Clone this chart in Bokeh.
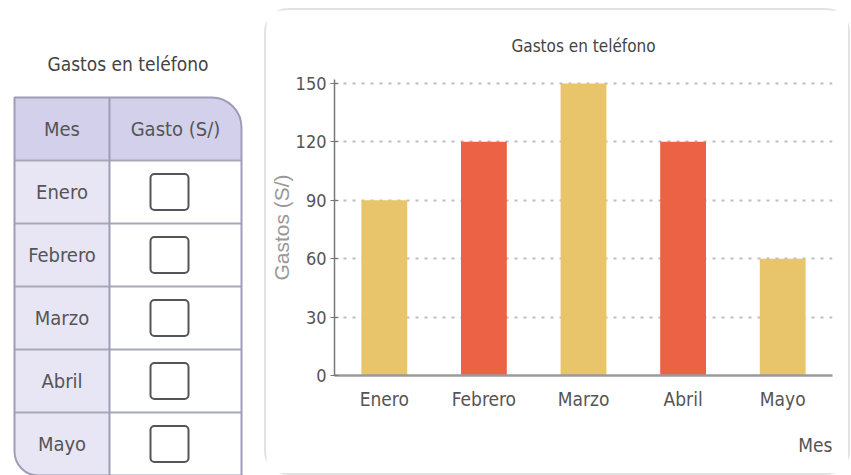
from bokeh.plotting import figure
from bokeh.layouts import row
from bokeh.models import Range1d, FixedTicker, Title, ColumnDataSource
from bokeh.core.properties import value
from bokeh.embed import file_html
from bokeh.resources import INLINE

# ---- data ----
months = ["Enero", "Febrero", "Marzo", "Abril", "Mayo"]
gastos = [90, 120, 150, 120, 60]
bar_colors = ["#e8c46a", "#ec6244", "#e8c46a", "#ec6244", "#e8c46a"]
y_ticks = [0, 30, 60, 90, 120, 150]
title_text = "Gastos en teléfono"
table_headers = ["Mes", "Gasto (S/)"]
y_label = "Gastos (S/)"
x_label = "Mes"

FONT = "DejaVu Sans Condensed"
TXT = "#555555"

# ---- left: table ----
L = figure(width=264, height=475, x_range=Range1d(0, 264), y_range=Range1d(0, 475),
           x_axis_type=None, y_axis_type=None, output_backend="svg",
           toolbar_location=None, min_border=0, outline_line_color=None)
L.frame_align = False

t_left, t_div, t_right = 14, 109, 241
row_h = 63
n_rows = len(months) + 1
t_bottom = 0
t_top = t_bottom + n_rows * row_h
head_bottom = t_top - row_h
centers = [head_bottom - (i + 0.5) * row_h for i in range(len(months))]
head_c = t_top - row_h / 2

L.quad(left=t_left, right=t_div, top=t_top, bottom=t_bottom, fill_color="#e8e6f5",
       line_color=None, border_radius=(0, 0, 0, 24))
L.quad(left=t_left, right=t_right, top=t_top, bottom=head_bottom, fill_color="#d3d0ec",
       line_color=None, border_radius=(0, 30, 0, 0))
ys = [head_bottom - i * row_h for i in range(len(months))]
L.segment(x0=[t_left] * len(ys), x1=[t_right] * len(ys), y0=ys, y1=ys,
          line_color="#a8a8b8", line_width=2)
L.segment(x0=[t_div], x1=[t_div], y0=[t_bottom], y1=[t_top], line_color="#9e9cb8", line_width=2)
L.quad(left=t_left, right=t_right, top=t_top, bottom=t_bottom, fill_color=None,
       line_color="#9e9cb8", line_width=2, border_radius=(0, 30, 0, 24))

bx = 169
L.quad(left=[bx - 19] * len(months), right=[bx + 19] * len(months),
       top=[c + 18 for c in centers], bottom=[c - 18 for c in centers],
       fill_color="white", line_color="#555555", line_width=2, border_radius=4)

L.text(x=[(t_left + t_div) / 2] * len(months), y=centers, text=months,
       text_align="center", text_baseline="middle", text_font=value(FONT),
       text_font_size="20px", text_color=TXT)
L.text(x=[(t_left + t_div) / 2, (t_div + t_right) / 2], y=[head_c, head_c], text=table_headers,
       text_align="center", text_baseline="middle", text_font=value(FONT),
       text_font_size="20px", text_color=TXT)
L.text(x=[(t_left + t_right) / 2], y=[t_top + 34], text=[title_text],
       text_align="center", text_baseline="middle", text_font=value(FONT),
       text_font_size="19px", text_color="#444444")

# ---- right: bar chart ----
src = ColumnDataSource(dict(mes=months, gasto=gastos, color=bar_colors))
R = figure(x_range=months, y_range=Range1d(0, 152), frame_width=494, frame_height=292,
           min_border_left=68, min_border_right=20, min_border_top=69, min_border_bottom=102,
           output_backend="svg", toolbar_location=None, outline_line_color=None,
           margin=(8, 0, 0, 0),
           styles={"border": "2px solid #e2e2e2", "border-radius": "24px"})
R.frame_align = False
R.vbar(x="mes", top="gasto", width=0.46, fill_color="color", line_color=None, source=src)

R.title.text = title_text
R.title.align = "center"
R.title.text_font = FONT
R.title.text_font_size = "17px"
R.title.text_font_style = "normal"
R.title.text_color = "#444444"
R.title.standoff = 47

R.xgrid.visible = False
R.ygrid.ticker = FixedTicker(ticks=y_ticks[1:])
R.ygrid.grid_line_dash = "3 6"
R.ygrid.grid_line_color = "#bdbdbd"
R.ygrid.grid_line_width = 2

ya = R.yaxis[0]
ya.ticker = FixedTicker(ticks=y_ticks)
ya.major_tick_in = 4
ya.major_tick_out = 4
ya.minor_tick_line_color = None
ya.axis_line_color = "#777777"
ya.axis_line_width = 1.5
ya.major_tick_line_color = "#777777"
ya.major_label_text_font = FONT
ya.major_label_text_font_size = "18px"
ya.major_label_text_color = TXT
ya.major_label_standoff = 4
ya.axis_label = y_label
ya.axis_label_text_font = "Liberation Sans"
ya.axis_label_text_font_size = "21px"
ya.axis_label_text_font_style = "normal"
ya.axis_label_text_color = "#999999"
ya.axis_label_standoff = 0

xa = R.xaxis[0]
xa.major_tick_line_color = None
xa.minor_tick_line_color = None
xa.axis_line_color = "#9a9a9a"
xa.axis_line_width = 2.5
xa.major_label_text_font = FONT
xa.major_label_text_font_size = "19px"
xa.major_label_text_color = TXT
xa.major_label_standoff = 6

R.add_layout(Title(text=x_label, align="right", text_font=FONT, text_font_size="19px",
                   text_font_style="normal", text_color=TXT, standoff=39), "below")

layout = row(L, R)
open("out.html", "w").write(file_html(layout, INLINE))
